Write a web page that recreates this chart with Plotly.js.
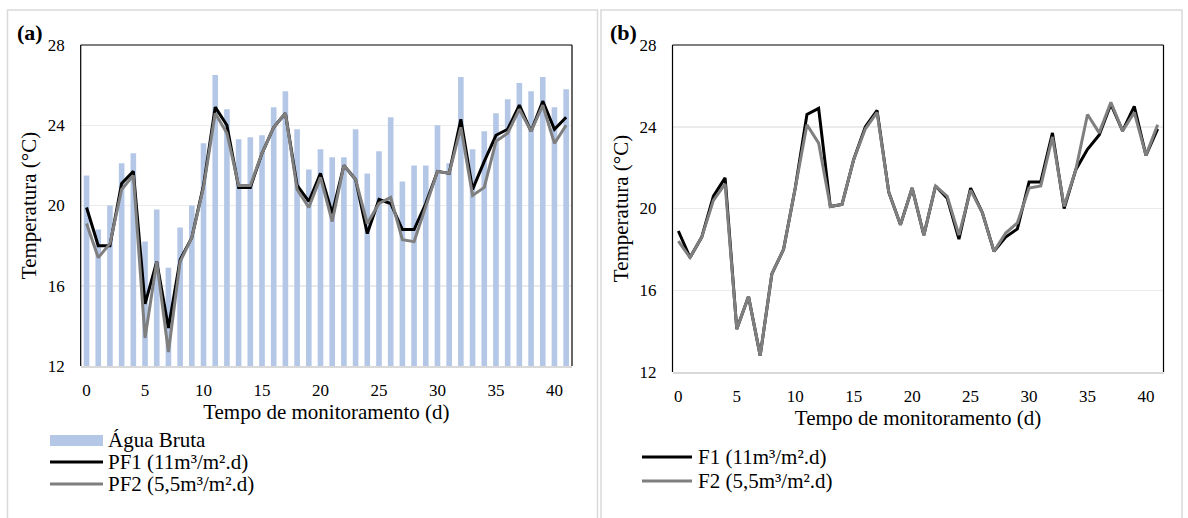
<!DOCTYPE html>
<html>
<head>
<meta charset="utf-8">
<script src="https://cdn.plot.ly/plotly-3.0.1.min.js"></script>
<style>html,body{margin:0;padding:0;background:#fff;}#chart{width:1188px;height:518px;}</style>
</head>
<body>
<div id="chart"></div>
<script>
// ---- Data ----
const days = [0,1,2,3,4,5,6,7,8,9,10,11,12,13,14,15,16,17,18,19,20,21,22,23,24,25,26,27,28,29,30,31,32,33,34,35,36,37,38,39,40,41];
const aguaBruta = [21.5,18.8,20.0,22.1,22.6,18.2,19.8,16.9,18.9,20.0,23.1,26.5,24.8,23.3,23.4,23.5,24.9,25.7,23.8,21.8,22.8,22.4,22.4,23.8,21.6,22.7,24.4,21.2,22.0,22.0,24.0,22.1,26.4,22.8,23.7,24.6,25.3,26.1,25.7,26.4,24.9,25.8];
const pf1 = [19.9,18.0,18.0,21.1,21.7,15.1,17.2,13.9,17.3,18.4,21.0,24.9,24.0,20.9,20.9,22.6,23.9,24.6,21.0,20.2,21.6,19.6,22.0,21.3,18.6,20.3,20.1,18.8,18.8,20.1,21.7,21.6,24.3,20.8,22.2,23.5,23.8,25.0,23.7,25.2,23.8,24.4];
const pf2 = [19.1,17.4,18.1,20.8,21.5,13.4,17.2,12.7,17.2,18.4,20.9,24.6,23.6,21.0,21.0,22.6,23.9,24.6,20.8,19.9,21.4,19.2,22.0,21.3,19.1,20.1,20.4,18.3,18.2,19.9,21.7,21.6,23.9,20.5,20.9,23.2,23.6,24.8,23.7,25.0,23.1,24.0];
const f1 = [18.9,17.6,18.6,20.6,21.5,14.1,15.7,12.8,16.8,18.0,21.0,24.6,24.9,20.1,20.2,22.4,24.0,24.8,20.8,19.2,21.0,18.7,21.1,20.5,18.5,21.0,19.8,17.9,18.6,19.0,21.3,21.3,23.7,20.0,21.9,22.9,23.6,25.1,23.8,25.0,22.6,23.9];
const f2 = [18.4,17.6,18.6,20.4,21.2,14.1,15.7,12.8,16.8,18.0,21.0,24.1,23.2,20.1,20.2,22.4,23.9,24.7,20.8,19.2,21.0,18.7,21.1,20.6,18.7,20.9,19.8,17.9,18.8,19.3,21.0,21.1,23.5,20.1,21.9,24.6,23.7,25.2,23.8,24.7,22.6,24.1];
const xTicks = [0,5,10,15,20,25,30,35,40];
const yTicks = [12,16,20,24,28];
const namesA = ['Água Bruta','PF1 (11m³/m².d)','PF2 (5,5m³/m².d)'];
const namesB = ['F1 (11m³/m².d)','F2 (5,5m³/m².d)'];
const panelLabels = ['(a)','(b)'];
const yTitle = 'Temperatura (°C)';
const xTitle = 'Tempo de monitoramento (d)';

// ---- Layout helpers ----
const W = 1188, H = 518;
const fx = x => x / W;
const fy = y => 1 - y / H;
const FONT = '"Liberation Serif", "Times New Roman", serif';
const BAR = '#b4c7e7', BLACK = '#000000', GRAY = '#7f7f7f';

const traces = [
  {type:'bar', x:days, y:aguaBruta, name:namesA[0], marker:{color:BAR}, width:0.48, xaxis:'x', yaxis:'y', showlegend:false, hoverinfo:'x+y'},
  {type:'scatter', mode:'lines', x:days, y:pf1, name:namesA[1], line:{color:BLACK, width:3}, xaxis:'x', yaxis:'y', showlegend:false},
  {type:'scatter', mode:'lines', x:days, y:pf2, name:namesA[2], line:{color:GRAY, width:3}, xaxis:'x', yaxis:'y', showlegend:false},
  {type:'scatter', mode:'lines', x:days, y:f1, name:namesB[0], line:{color:BLACK, width:3}, xaxis:'x2', yaxis:'y2', showlegend:false},
  {type:'scatter', mode:'lines', x:days, y:f2, name:namesB[1], line:{color:GRAY, width:3}, xaxis:'x2', yaxis:'y2', showlegend:false}
];

function xAxis(dom, anchor){
  return {domain:dom, anchor:anchor, range:[-0.5,41.5], tickmode:'array', tickvals:xTicks,
    showgrid:false, zeroline:false, showline:true, linecolor:'#d9d9d9', linewidth:1.5,
    ticks:'', ticklabelstandoff:8, tickfont:{family:FONT, size:17, color:'#000'},
    title:{text:xTitle, font:{family:FONT, size:21, color:'#000'}, standoff:3}, fixedrange:true};
}
function yAxis(dom, anchor){
  return {domain:dom, anchor:anchor, range:[12,28], tickmode:'array', tickvals:yTicks,
    showgrid:true, gridcolor:'#ebebeb', gridwidth:1.5, zeroline:false, showline:false,
    ticks:'', ticklabelstandoff:15, tickfont:{family:FONT, size:17, color:'#000'},
    title:{text:yTitle, font:{family:FONT, size:21, color:'#000'}, standoff:5}, fixedrange:true};
}

const shapes = [
  // outer frames
  {type:'rect', xref:'paper', yref:'paper', x0:fx(7.5), x1:fx(597.5), y0:fy(530), y1:fy(10), line:{color:'#d9d9d9', width:1.5}, layer:'below'},
  {type:'rect', xref:'paper', yref:'paper', x0:fx(601), x1:fx(1182), y0:fy(530), y1:fy(10), line:{color:'#d9d9d9', width:1.5}, layer:'below'}
];
// plot-area borders (left, top, right) for both panels
[['x','y'],['x2','y2']].forEach(([xa,ya])=>{
  const xr = xa+' domain', yr = ya+' domain';
  const ln = {color:'#000', width:1.2};
  shapes.push({type:'line', xref:xr, yref:yr, x0:0, x1:0, y0:0, y1:1, line:ln});
  shapes.push({type:'line', xref:xr, yref:yr, x0:0, x1:1, y0:1, y1:1, line:ln});
  shapes.push({type:'line', xref:xr, yref:yr, x0:1, x1:1, y0:0, y1:1, line:ln});
});
// legend keys (a)
shapes.push({type:'rect', xref:'paper', yref:'paper', x0:fx(50), x1:fx(103), y0:fy(446), y1:fy(435), fillcolor:BAR, line:{width:0}});
shapes.push({type:'line', xref:'paper', yref:'paper', x0:fx(50), x1:fx(103), y0:fy(462), y1:fy(462), line:{color:BLACK, width:3}});
shapes.push({type:'line', xref:'paper', yref:'paper', x0:fx(50), x1:fx(103), y0:fy(484), y1:fy(484), line:{color:GRAY, width:3}});
// legend keys (b)
shapes.push({type:'line', xref:'paper', yref:'paper', x0:fx(642), x1:fx(692), y0:fy(457), y1:fy(457), line:{color:BLACK, width:3}});
shapes.push({type:'line', xref:'paper', yref:'paper', x0:fx(642), x1:fx(692), y0:fy(481), y1:fy(481), line:{color:GRAY, width:3}});

const legFont = {family:FONT, size:21, color:'#000'};
const annotations = [
  {xref:'paper', yref:'paper', x:fx(15), y:fy(33), text:'<b>'+panelLabels[0]+'</b>', showarrow:false, xanchor:'left', yanchor:'middle', font:{family:FONT, size:22, color:'#000'}},
  {xref:'paper', yref:'paper', x:fx(608), y:fy(33), text:'<b>'+panelLabels[1]+'</b>', showarrow:false, xanchor:'left', yanchor:'middle', font:{family:FONT, size:22, color:'#000'}},
  {xref:'paper', yref:'paper', x:fx(106), y:fy(440), text:namesA[0], showarrow:false, xanchor:'left', yanchor:'middle', font:legFont},
  {xref:'paper', yref:'paper', x:fx(106), y:fy(462), text:namesA[1], showarrow:false, xanchor:'left', yanchor:'middle', font:legFont},
  {xref:'paper', yref:'paper', x:fx(106), y:fy(484), text:namesA[2], showarrow:false, xanchor:'left', yanchor:'middle', font:legFont},
  {xref:'paper', yref:'paper', x:fx(696), y:fy(457), text:namesB[0], showarrow:false, xanchor:'left', yanchor:'middle', font:legFont},
  {xref:'paper', yref:'paper', x:fx(696), y:fy(481), text:namesB[1], showarrow:false, xanchor:'left', yanchor:'middle', font:legFont}
];

const layout = {
  width:W, height:H, margin:{l:0, r:0, t:0, b:0},
  paper_bgcolor:'#fff', plot_bgcolor:'#fff',
  showlegend:false, bargap:0.52,
  font:{family:FONT, color:'#000'},
  xaxis: xAxis([fx(80.7), fx(572)], 'y'),
  yaxis: yAxis([fy(366), fy(45)], 'x'),
  xaxis2: xAxis([fx(672.5), fx(1163.5)], 'y2'),
  yaxis2: yAxis([fy(372), fy(45)], 'x2'),
  shapes: shapes,
  annotations: annotations
};

Plotly.newPlot('chart', traces, layout, {displayModeBar:false, staticPlot:true});
</script>
</body>
</html>
